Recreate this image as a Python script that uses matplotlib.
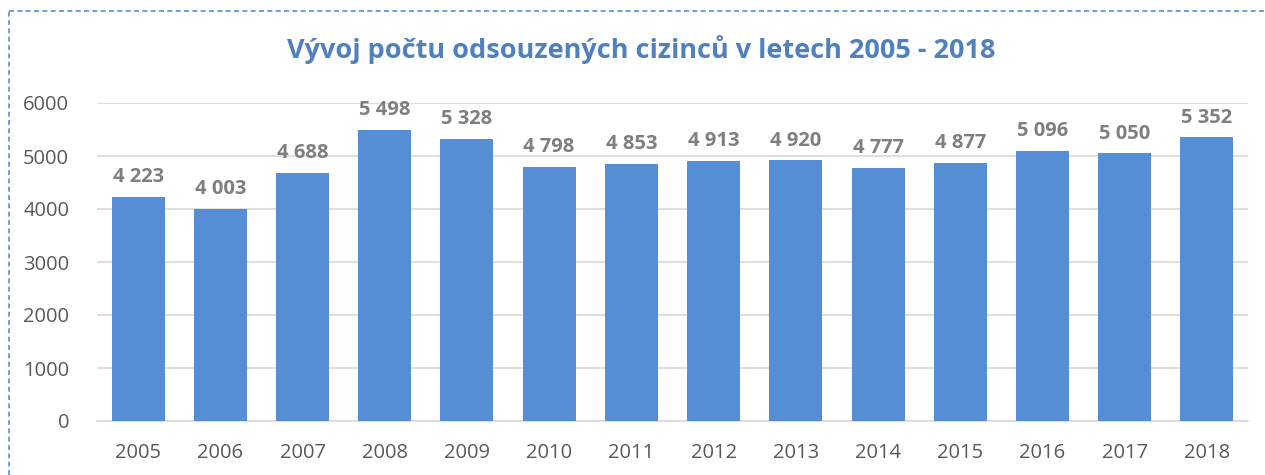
import matplotlib.pyplot as plt
from matplotlib.lines import Line2D

years = ['2005', '2006', '2007', '2008', '2009', '2010', '2011',
         '2012', '2013', '2014', '2015', '2016', '2017', '2018']
counts = [4223, 4003, 4688, 5498, 5328, 4798, 4853,
          4913, 4920, 4777, 4877, 5096, 5050, 5352]

plt.rcParams['font.family'] = ['Open Sans', 'DejaVu Sans']

W, H = 1265, 475
fig = plt.figure(figsize=(W / 100, H / 100), dpi=100)
ax = fig.add_axes([97 / W, 1 - 421 / H, (1248 - 97) / W, (421 - 103) / H])

x = range(len(years))
ax.bar(x, counts, width=0.645, color='#558ED5', zorder=3)
for xi, v in zip(x, counts):
    lab = '{:,}'.format(v).replace(',', ' ')
    ax.annotate(lab, (xi, v), xytext=(0, 7), textcoords='offset points',
                ha='center', va='bottom', fontsize=14.5, fontweight='bold',
                color='#7F7F7F')

ax.set_xlim(-0.5, len(years) - 0.5)
ax.set_ylim(0, 6000)
ax.set_yticks(range(0, 6001, 1000))
ax.set_xticks(list(x))
ax.set_xticklabels(years)
ax.grid(axis='y', color='#D9D9D9', linewidth=1.2, zorder=0)
for s in ['top', 'right', 'left']:
    ax.spines[s].set_visible(False)
ax.spines['bottom'].set_color('#D9D9D9')
ax.spines['bottom'].set_linewidth(1.2)
ax.tick_params(length=0, labelsize=14.5, labelcolor='#595959')
ax.tick_params(axis='y', pad=20)
ax.tick_params(axis='x', pad=16)

fig.text(0.507, 1 - 50 / H, 'Vývoj počtu odsouzených cizinců v letech 2005 - 2018',
         ha='center', va='center', fontsize=19.5, fontweight='bold', color='#4F81BD')

# dashed frame (top and left visible)
fig.add_artist(Line2D([9 / W, 1], [1 - 11 / H, 1 - 11 / H], transform=fig.transFigure,
                      color='#5B8FD6', linestyle=(0, (3, 2)), linewidth=1.2))
fig.add_artist(Line2D([9 / W, 9 / W], [0, 1 - 11 / H], transform=fig.transFigure,
                      color='#5B8FD6', linestyle=(0, (3, 2)), linewidth=1.2))

fig.savefig('out.png', dpi=100)
